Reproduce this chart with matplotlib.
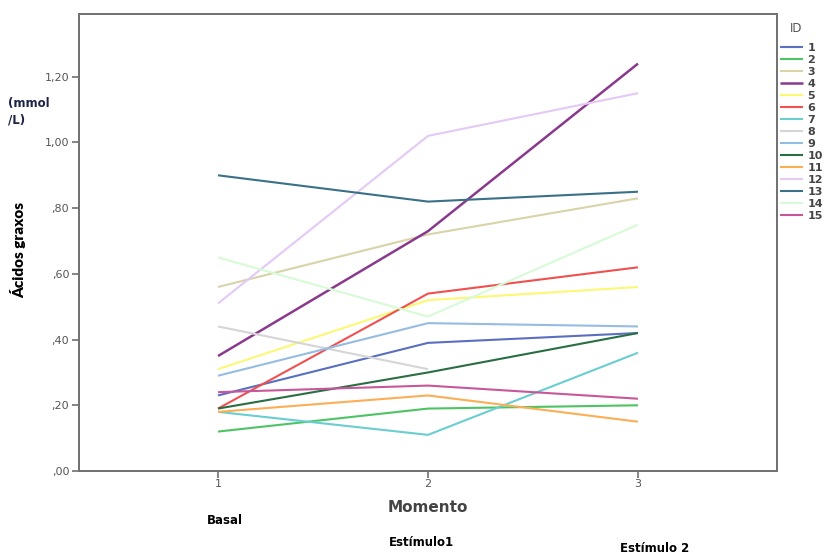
import numpy as np
import matplotlib
matplotlib.use("Agg")
import matplotlib.pyplot as plt
from matplotlib.ticker import FuncFormatter

# Fatty acid concentration (mmol/L) per subject at each moment
moments = [1, 2, 3]
moment_names = ["Basal", "Estímulo1", "Estímulo 2"]
ids = [str(i) for i in range(1, 16)]

id1 = [0.23, 0.39, 0.42]
id2 = [0.12, 0.19, 0.20]
id3 = [0.56, 0.72, 0.83]
id4 = [0.35, 0.73, 1.24]
id5 = [0.31, 0.52, 0.56]
id6 = [0.19, 0.54, 0.62]
id7 = [0.18, 0.11, 0.36]
id8 = [0.44, 0.31, np.nan]
id9 = [0.29, 0.45, 0.44]
id10 = [0.19, 0.30, 0.42]
id11 = [0.18, 0.23, 0.15]
id12 = [0.51, 1.02, 1.15]
id13 = [0.90, 0.82, 0.85]
id14 = [0.65, 0.47, 0.75]
id15 = [0.24, 0.26, 0.22]
series = [id1, id2, id3, id4, id5, id6, id7, id8, id9, id10,
          id11, id12, id13, id14, id15]

colors = ["#5a6fc0", "#4cc464", "#d8d3a8", "#8a3a8c", "#fbf873", "#f05050",
          "#6acdd0", "#d5d5d5", "#95bce3", "#2a6e44", "#fbae55", "#e4c9f6",
          "#3a7088", "#d6fbd6", "#c8579a"]
widths = [1.5, 1.5, 1.5, 1.8, 1.5, 1.5, 1.5, 1.5, 1.5, 1.5,
          1.5, 1.5, 1.5, 1.5, 1.5]

yticks = [0.0, 0.2, 0.4, 0.6, 0.8, 1.0, 1.2]

fig = plt.figure(figsize=(8.25, 5.55), dpi=100)
ax = fig.add_axes([79 / 825, 84 / 555, 698 / 825, 457 / 555])

for vals, c, lw, lab in zip(series, colors, widths, ids):
    ax.plot(moments, vals, color=c, lw=lw, label=lab, solid_capstyle="butt")

ax.set_xlim(0.338, 3.662)
ax.set_ylim(0, 1.391)
ax.set_xticks(moments)
ax.set_yticks(yticks)


def comma_fmt(v, pos):
    s = f"{v:.2f}".replace(".", ",")
    if s.startswith("0"):
        s = s[1:]
    return s


ax.yaxis.set_major_formatter(FuncFormatter(comma_fmt))

spine_c = "#707070"
for sp in ax.spines.values():
    sp.set_color(spine_c)
    sp.set_linewidth(1.4)
ax.tick_params(axis="both", colors=spine_c, labelcolor="#555555",
               labelsize=8, length=5, width=1.2, direction="out")
ax.tick_params(axis="x", pad=1)
ax.tick_params(axis="y", pad=2)

ax.set_xlabel("Momento", fontsize=11, fontweight="bold", color="#444444",
              labelpad=8)

leg = ax.legend(loc="upper left", bbox_to_anchor=(780 / 825, 1 - 43 / 555),
                bbox_transform=fig.transFigure,
                frameon=False, fontsize=8,
                handlelength=2.1, handletextpad=0.35, labelspacing=0.18,
                borderaxespad=0, borderpad=0)
for t in leg.get_texts():
    t.set_color("#444444")
    t.set_fontweight("bold")

fig.text(796 / 825, 1 - 28 / 555, "ID", ha="center", va="center",
         fontsize=8.5, color="#555555")

fig.text(18 / 825, 1 - 250 / 555, "Ácidos graxos", rotation=90,
         ha="center", va="center", fontsize=11, fontweight="heavy",
         color="black", family=["Lato", "DejaVu Sans"])
fig.text(8 / 825, 1 - 112 / 555, "(mmol\n/L)", ha="left", va="center",
         fontsize=8.5, fontweight="bold", color="#1c2345", linespacing=1.3)

name_pos = [(225, 521), (421, 543), (655, 548)]
for name, (px, py) in zip(moment_names, name_pos):
    fig.text(px / 825, 1 - py / 555, name, ha="center", va="center",
             fontsize=8.5, fontweight="bold", color="black")

fig.savefig("out.png", dpi=100)
